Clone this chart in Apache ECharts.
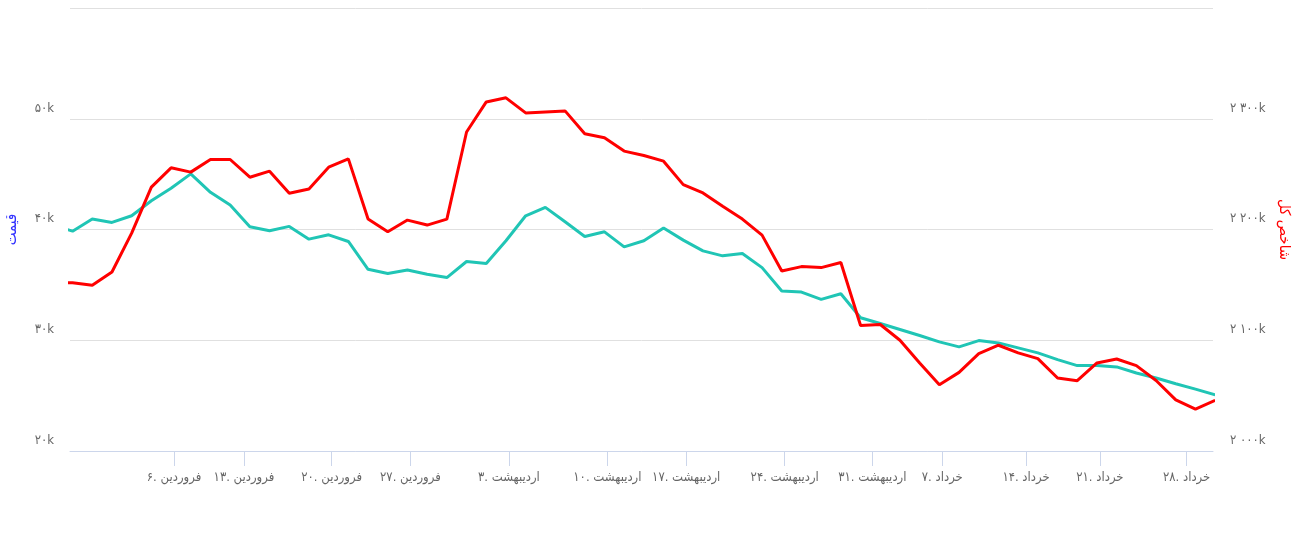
<!DOCTYPE html>
<html>
<head>
<meta charset="utf-8">
<script src="https://cdn.jsdelivr.net/npm/echarts@6/dist/echarts.min.js"></script>
<style>
  html, body { margin: 0; padding: 0; background: #fff; }
  #chart { width: 1297px; height: 539px; }
</style>
</head>
<body>
<div id="chart"></div>
<script>
// price (left axis, thousands) per trading day
const priceK = [
  40.4, 39.85, 40.94, 40.64, 41.24, 42.6, 43.73, 45.02, 43.36, 42.21,
  40.24, 39.88, 40.28, 39.13, 39.52, 38.92, 36.41, 36.02, 36.35, 35.96,
  35.66, 37.11, 36.93, 38.98, 41.24, 42.0, 40.7, 39.37, 39.79, 38.43,
  38.98, 40.13, 39.04, 38.07, 37.62, 37.83, 36.56, 34.44, 34.35, 33.69,
  34.2, 32.03, 31.51, 30.97, 30.43, 29.85, 29.4, 29.97, 29.76, 29.31,
  28.86, 28.25, 27.71, 27.73, 27.59, 27.04, 26.59, 26.07, 25.59, 25.08
];
// total index (right axis, thousands)
const indexK = [
  2152.3, 2151.9, 2149.6, 2161.6, 2196.7, 2238.2, 2255.7, 2251.8, 2263.2, 2263.2,
  2247.2, 2252.7, 2232.7, 2236.6, 2256.3, 2263.8, 2209.4, 2197.9, 2208.5, 2204.0,
  2209.4, 2288.0, 2315.2, 2318.9, 2305.3, 2306.2, 2307.1, 2286.5, 2282.9, 2270.8,
  2266.8, 2261.7, 2240.5, 2233.0, 2220.9, 2209.4, 2194.9, 2162.6, 2166.5, 2165.6,
  2170.2, 2113.3, 2114.2, 2100.0, 2079.5, 2059.8, 2071.0, 2087.9, 2095.5, 2088.6,
  2083.4, 2065.9, 2063.5, 2079.5, 2083.1, 2077.1, 2063.7, 2046.2, 2037.8, 2045.8
];
// weekly ticks (position on the trading-day scale) and their labels
const tickPos = [6.15, 9.7, 14.15, 18.15, 23.15, 28.15, 32.15, 37.15, 41.6, 45.15, 49.4, 53.15, 57.55];
const tickLabels = [
  '۶. فروردین', '۱۳. فروردین', '۲۰. فروردین', '۲۷. فروردین',
  '۳. اردیبهشت', '۱۰. اردیبهشت', '۱۷. اردیبهشت', '۲۴. اردیبهشت', '۳۱. اردیبهشت',
  '۷. خرداد', '۱۴. خرداد', '۲۱. خرداد', '۲۸. خرداد'
];

const faDigits = s => String(s).replace(/\d/g, d => '۰۱۲۳۴۵۶۷۸۹'[d]);
const groupSpace = n => String(n).replace(/\B(?=(\d{3})+(?!\d))/g, ' ');

const chart = echarts.init(document.getElementById('chart'));
const font = 'DejaVu Sans Condensed, DejaVu Sans, sans-serif';

chart.setOption({
  animation: false,
  backgroundColor: '#fff',
  grid: { left: 70, right: 84, top: 8, bottom: 88, containLabel: false, outerBoundsMode: 'none' },
  xAxis: {
    type: 'value',
    min: 0.87,
    max: 58.89,
    splitLine: { show: false },
    axisLine: { lineStyle: { color: '#ccd6eb', width: 1 } },
    axisTick: { show: true, length: 15, customValues: tickPos, lineStyle: { color: '#ccd6eb' } },
    axisLabel: {
      customValues: tickPos,
      color: '#666',
      fontSize: 13,
      fontFamily: font,
      margin: 20,
      formatter: v => {
        let best = 0;
        tickPos.forEach((p, i) => { if (Math.abs(p - v) < Math.abs(tickPos[best] - v)) best = i; });
        return tickLabels[best];
      }
    }
  },
  yAxis: [
    {
      type: 'value',
      min: 20, max: 60, interval: 10,
      name: 'قیمت',
      nameLocation: 'middle',
      nameGap: 50,
      nameRotate: 90,
      nameTextStyle: { color: '#3333ff', fontSize: 15, fontFamily: font },
      axisLine: { show: false },
      axisTick: { show: false },
      splitLine: { lineStyle: { color: '#e0e0e0', width: 1 } },
      axisLabel: {
        color: '#666', fontSize: 13, fontFamily: font, margin: 16,
        verticalAlign: 'bottom', padding: [0, 0, 4, 0],
        showMaxLabel: false,
        formatter: v => faDigits(v) + 'k'
      }
    },
    {
      type: 'value',
      min: 2000, max: 2400, interval: 100,
      position: 'right',
      name: 'شاخص کل',
      nameLocation: 'middle',
      nameGap: 62,
      nameRotate: -90,
      nameTextStyle: { color: '#ff0000', fontSize: 15, fontFamily: font },
      axisLine: { show: false },
      axisTick: { show: false },
      splitLine: { show: false },
      axisLabel: {
        color: '#666', fontSize: 13, fontFamily: font, margin: 17,
        verticalAlign: 'bottom', padding: [0, 0, 4, 0],
        showMaxLabel: false,
        formatter: v => faDigits(groupSpace(v)) + 'k'
      }
    }
  ],
  series: [
    {
      name: 'قیمت',
      type: 'line',
      yAxisIndex: 0,
      showSymbol: false,
      data: priceK.map((v, i) => [i, v]),
      lineStyle: { color: '#20c5b5', width: 3 },
      itemStyle: { color: '#20c5b5' },
      z: 2
    },
    {
      name: 'شاخص کل',
      type: 'line',
      yAxisIndex: 1,
      showSymbol: false,
      data: indexK.map((v, i) => [i, v]),
      lineStyle: { color: '#ff0000', width: 3 },
      itemStyle: { color: '#ff0000' },
      z: 3
    }
  ]
});
</script>
</body>
</html>
